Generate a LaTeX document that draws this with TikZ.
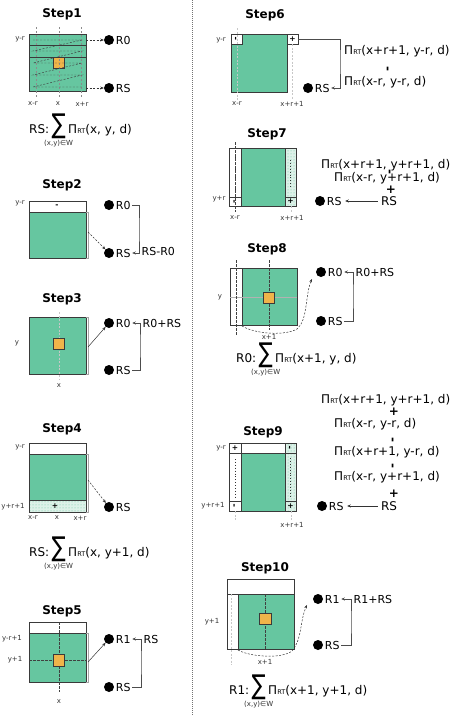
\documentclass[tikz,border=0pt]{standalone}
\usepackage{fontspec}
\usepackage{graphicx}
\setmainfont{DejaVu Sans}
\usetikzlibrary{arrows.meta,patterns}
\definecolor{grn}{HTML}{66C6A0}
\definecolor{org}{HTML}{F0B44A}
\definecolor{lgrn}{HTML}{DDF1E8}
\definecolor{bord}{HTML}{3A3A3A}
\newcommand{\PRT}{Π\kern0.2pt{\fontsize{6.5}{7}\selectfont RT}}
\newcommand{\sumf}[5]{%
 \node[ftx, anchor=base west] (#1a) at (#2,#3) {#4};
 \node[fsum, anchor=base west] (#1s) at (#1a.base east) {\scalebox{1}[1.3]{∑}};
 \node[ftx, anchor=base west] (#1b) at (#1s.base east) {\PRT(#5)};
 \node[lbl, anchor=north] (#1w) at ([yshift=-7pt]#1s.base) {(x,y)∈W};}
\begin{document}
\begin{tikzpicture}[x=1pt,y=-1pt,
 title/.style={font=\fontsize{12}{14}\selectfont\bfseries, inner sep=0},
 lbl/.style={font=\fontsize{7}{8}\selectfont, inner sep=0, text=black!80},
 mini/.style={font=\fontsize{7.5}{8}\selectfont\bfseries, inner sep=0},
 mminus/.style={mini, font=\fontsize{8.5}{9}\selectfont\bfseries, rotate=90},
 reg/.style={circle, fill=black, minimum size=10pt, inner sep=0},
 regt/.style={anchor=west, font=\fontsize{11}{12}\selectfont, inner sep=1.5pt},
 pit/.style={anchor=west, font=\fontsize{12}{14}\selectfont, inner sep=0},
 op/.style={font=\fontsize{12}{13}\selectfont\bfseries, inner sep=0},
 opminus/.style={op, rotate=90},
 ftx/.style={font=\fontsize{12}{14}\selectfont, inner sep=0},
 fsum/.style={font=\fontsize{21}{22}\selectfont, inner ysep=0, inner xsep=2pt},
 gbox/.style={fill=grn, draw=bord, line width=0.9pt},
 wbox/.style={fill=white, draw=bord, line width=0.8pt},
 lbox/.style={fill=lgrn, draw=bord, line width=0.8pt},
 obox/.style={fill=org, draw=bord, line width=0.7pt},
 guide/.style={black!45, line width=0.4pt, dash pattern=on 2pt off 2pt},
 dguide/.style={black!75, line width=0.5pt, dash pattern=on 2.5pt off 1.5pt},
 fguide/.style={black!22, line width=0.4pt, dash pattern=on 2pt off 1.5pt},
 zig/.style={black!75, line width=0.45pt, dash pattern=on 2pt off 1.5pt},
 brk/.style={black!35, line width=0.5pt},
 dotcol/.style={black!80, line width=0.9pt, dash pattern=on 0.9pt off 2pt},
 conn/.style={-{Stealth[length=3.5pt,width=3pt]}, line width=0.5pt, black!80},
 dconn/.style={conn, dash pattern=on 2pt off 1.5pt},
 bus/.style={-{Stealth[length=3.5pt,width=3pt]}, line width=0.7pt, black!70},
]
\useasboundingbox (0,0) rectangle (457,715);
% divider
\coordinate (dvt) at (192,0); \coordinate (dvb) at (192,715);
\draw[black!55, line width=0.6pt, dash pattern=on 1pt off 1pt] (dvt) -- (dvb);

% ---------------- Step1
\node[title] (t1) at (62,14) {Step1};
\draw[gbox] (29,34) rectangle (86,91);
\draw[bord, line width=0.9pt] (29,45) -- (86,45) (29,57) -- (86,57);
\draw[obox] (53,57) rectangle (64,68);
\draw[guide] (36,27) -- (36,97) (59,27) -- (59,97) (81,27) -- (81,97);
\draw[zig] (33,40) -- (82,40) -- (33,51) -- (82,51) -- (33,63) -- (82,63) -- (33,75) -- (82,75) -- (33,87) -- (82,87);
\node[lbl] (l1a) at (20,39) {y-r};
\node[lbl] (l1b) at (33,104) {x-r};
\node[lbl] (l1c) at (58,104) {x};
\node[lbl] (l1d) at (82,104) {x+r};
\node[reg] (s1r0) at (109,40) {}; \node[regt] (s1r0t) at (s1r0.east) {R0};
\node[reg] (s1rs) at (109,88) {}; \node[regt] (s1rst) at (s1rs.east) {RS};
\coordinate (s1p) at (86,40); \coordinate (s1q) at (86,88);
\draw[dconn] (s1p) -- (s1r0);
\draw[dconn] (s1q) -- (s1rs);
\sumf{f1}{29}{133}{RS:}{x, y, d}

% ---------------- Step2
\node[title] (t2) at (62,185) {Step2};
\draw[wbox] (29,201) rectangle (86,212);
\draw[gbox] (29,212) rectangle (86,258);
\node[mini] (m2) at (57,206) {-};
\node[lbl] (l2a) at (20,203) {y-r};
\draw[brk] (86,212) -- (88,212) -- (88,258) -- (86,258);
\node[reg] (s2r0) at (109,205) {}; \node[regt] (s2r0t) at (s2r0.east) {R0};
\node[reg] (s2rs) at (109,253) {}; \node[regt] (s2rst) at (s2rs.east) {RS};
\coordinate (s2p) at (88,232);
\draw[dconn] (s2p) -- (s2rs);
\coordinate (s2v) at (139,230);
\draw[bus] (s2r0t.east) -| (s2v) |- (s2rst.east);
\node[regt] (s2l) at (140,251) {RS-R0};

% ---------------- Step3
\node[title] (t3) at (62,299) {Step3};
\draw[gbox] (29,317) rectangle (86,374);
\draw[fguide] (59,312) -- (59,380);
\draw[obox] (53,338) rectangle (64,349);
\node[lbl] (l3a) at (17,343) {y};
\node[lbl] (l3b) at (59,386) {x};
\draw[brk] (86,317) -- (88,317) -- (88,374) -- (86,374);
\node[reg] (s3r0) at (109,323) {}; \node[regt] (s3r0t) at (s3r0.east) {R0};
\node[reg] (s3rs) at (109,370) {}; \node[regt] (s3rst) at (s3rs.east) {RS};
\coordinate (s3p) at (88,347);
\draw[conn] (s3p) -- (s3r0);
\coordinate (s3v) at (140,345);
\draw[bus] (s3rst.east) -| (s3v) |- (s3r0t.east);
\node[regt] (s3l) at (141,323) {R0+RS};

% ---------------- Step4
\node[title] (t4) at (62,429) {Step4};
\draw[wbox] (29,443) rectangle (86,454);
\draw[gbox] (29,454) rectangle (86,500);
\draw[lbox] (29,500) rectangle (86,512);
\fill[pattern=dots, pattern color=grn] (29.5,500.5) rectangle (85.5,511.5);
\draw[bord, line width=0.8pt] (29,500) rectangle (86,512);
\node[mini] (m4) at (55,506) {+};
\node[lbl] (l4a) at (20,447) {y-r};
\node[lbl] (l4b) at (13,507) {y+r+1};
\node[lbl] (l4c) at (33,518) {x-r};
\node[lbl] (l4d) at (57,518) {x};
\node[lbl] (l4e) at (80,518) {x+r};
\draw[brk] (86,454) -- (88,454) -- (88,512) -- (86,512);
\node[reg] (s4rs) at (109,507) {}; \node[regt] (s4rst) at (s4rs.east) {RS};
\coordinate (s4p) at (88,480);
\draw[dconn] (s4p) -- (s4rs);
\sumf{f4}{29}{556}{RS:}{x, y+1, d}

% ---------------- Step5
\node[title] (t5) at (62,611) {Step5};
\draw[wbox] (29,622) rectangle (86,633);
\draw[gbox] (29,633) rectangle (86,682);
\draw[dguide] (59,622) -- (59,692) (29,660) -- (87,660);
\draw[obox] (53,654) rectangle (64,666);
\node[lbl] (l5a) at (12,639) {y-r+1};
\node[lbl] (l5b) at (15,660) {y+1};
\node[lbl] (l5c) at (59,702) {x};
\draw[brk] (86,633) -- (88,633) -- (88,682) -- (86,682);
\node[reg] (s5r1) at (109,639) {}; \node[regt] (s5r1t) at (s5r1.east) {R1};
\node[reg] (s5rs) at (109,687) {}; \node[regt] (s5rst) at (s5rs.east) {RS};
\coordinate (s5p) at (88,662);
\draw[conn] (s5p) -- (s5r1);
\coordinate (s5v) at (141,662);
\draw[bus] (s5rst.east) -| (s5v) |- (s5r1t.east);
\node[regt] (s5l) at (142,639) {RS};

% ---------------- Step6
\node[title] (t6) at (265,15) {Step6};
\draw[gbox] (231,34) rectangle (287,92);
\draw[wbox] (231,34) rectangle (242,44);
\draw[wbox] (287,34) rectangle (298,44);
\node[mminus] (m6a) at (236.5,39) {-};
\node[mini] (m6b) at (292.5,39) {+};
\draw[fguide] (237,28) -- (237,100) (292,44) -- (292,100);
\node[lbl] (l6a) at (221,40) {y-r};
\node[lbl] (l6b) at (237,104) {x-r};
\node[lbl] (l6c) at (292,104) {x+r+1};
\node[reg] (s6rs) at (308,88) {}; \node[regt] (s6rst) at (s6rs.east) {RS};
\coordinate (s6p) at (298,39); \coordinate (s6v) at (340,60);
\draw[bus] (s6p) -| (s6v) |- (s6rst.east);
\node[pit] (s6a) at (344,51) {\PRT(x+r+1, y-r, d)};
\node[opminus] (s6m) at (389,69) {-};
\node[pit] (s6b) at (344,82) {\PRT(x-r, y-r, d)};

% ---------------- Step7
\node[title] (t7) at (267,134) {Step7};
\draw[wbox] (229,148) rectangle (241,206);
\draw[gbox] (241,148) rectangle (285,206);
\draw[lbox] (285,148) rectangle (296,206);
\fill[pattern=dots, pattern color=grn] (285.5,148.5) rectangle (295.5,205.5);
\draw[bord, line width=0.8pt] (285,148) rectangle (296,206);
\draw[wbox] (229,197) rectangle (241,206);
\draw[bord, line width=0.8pt] (285,197) rectangle (296,206);
\draw[dotcol] (235,154) -- (235,192);
\draw[dotcol] (290.5,160) -- (290.5,188);
\draw[dguide] (235,142) -- (235,212);
\draw[fguide] (291,206) -- (291,212);
\node[mminus] (m7a) at (235,201.5) {-};
\node[mini] (m7b) at (290.5,201.5) {+};
\node[lbl] (l7a) at (219,199) {y+r};
\node[lbl] (l7b) at (235,218) {x-r};
\node[lbl] (l7c) at (292,218) {x+r+1};
\node[pit] (s7a) at (321,165) {\PRT(x+r+1, y+r+1, d)};
\node[opminus] (s7m) at (391,172) {-};
\node[pit] (s7b) at (334,178) {\PRT(x-r, y+r+1, d)};
\node[op] (s7p) at (391,190) {+};
\node[pit, anchor=center] (s7src) at (389,201) {RS};
\node[reg] (s7rs) at (320,201) {}; \node[regt] (s7rst) at (s7rs.east) {RS};
\draw[conn] ([xshift=-3pt]s7src.west) -- ([xshift=2pt]s7rst.east);

% ---------------- Step8
\node[title] (t8) at (267,249) {Step8};
\draw[wbox] (230,268) rectangle (242,325);
\draw[gbox] (242,268) rectangle (297,325);
\draw[black!30, line width=0.4pt] (230,297) -- (297,297);
\draw[dguide] (236,260) -- (236,335) (269,260) -- (269,330);
\draw[obox] (263.5,292) rectangle (274.5,303);
\node[lbl] (l8a) at (220,297) {y};
\node[lbl] (l8b) at (269,337) {x+1};
\node[reg] (s8r0) at (321,272) {}; \node[regt] (s8r0t) at (s8r0.east) {R0};
\node[reg] (s8rs) at (321,321) {}; \node[regt] (s8rst) at (s8rs.east) {RS};
\coordinate (s8p) at (242,326); \coordinate (s8q) at (312,279);
\draw[dconn] (s8p) .. controls (255,334) and (285,336) .. (297,329) .. controls (308,320) and (305,295) .. (s8q);
\coordinate (s8v) at (353,296);
\draw[bus] (s8rst.east) -| (s8v) |- (s8r0t.east);
\node[regt] (s8l) at (354,272) {R0+RS};
\sumf{f8}{236}{362}{R0:}{x+1, y, d}

% ---------------- Step9
\node[title] (t9) at (263,432) {Step9};
\draw[wbox] (229,443) rectangle (296,453);
\draw[wbox] (229,453) rectangle (241,511);
\draw[gbox] (241,453) rectangle (285,511);
\draw[lbox] (285,443) rectangle (296,511);
\fill[pattern=dots, pattern color=grn] (285.5,443.5) rectangle (295.5,510.5);
\draw[bord, line width=0.8pt] (285,443) rectangle (296,511);
\draw[bord, line width=0.8pt] (229,443) rectangle (241,453);
\draw[bord, line width=0.8pt] (285,443) rectangle (296,453);
\draw[bord, line width=0.8pt] (229,501) rectangle (241,511);
\draw[bord, line width=0.8pt] (285,501) rectangle (296,511);
\draw[dotcol] (235,459) -- (235,497);
\draw[dotcol] (290.5,458) -- (290.5,497);
\draw[fguide] (235,511) -- (235,520) (291,511) -- (291,520);
\node[mini] (m9a) at (235,448) {+};
\node[mminus] (m9b) at (290.5,448) {-};
\node[mminus] (m9c) at (235,506) {-};
\node[mini] (m9d) at (290.5,506) {+};
\node[lbl] (l9a) at (221,448) {y-r};
\node[lbl] (l9b) at (213,506) {y+r+1};
\node[lbl] (l9c) at (292,525) {x+r+1};
\node[pit] (s9a) at (321,400) {\PRT(x+r+1, y+r+1, d)};
\node[op] (s9p1) at (394,412) {+};
\node[pit] (s9b) at (334,424.5) {\PRT(x-r, y-r, d)};
\node[opminus] (s9m1) at (394,440) {-};
\node[pit] (s9c) at (334,452) {\PRT(x+r+1, y-r, d)};
\node[opminus] (s9m2) at (394,466) {-};
\node[pit] (s9d) at (334,477.5) {\PRT(x-r, y+r+1, d)};
\node[op] (s9p2) at (394,494) {+};
\node[pit, anchor=center] (s9src) at (389,506) {RS};
\node[reg] (s9rs) at (322,506) {}; \node[regt] (s9rst) at (s9rs.east) {RS};
\draw[conn] ([xshift=-3pt]s9src.west) -- ([xshift=2pt]s9rst.east);

% ---------------- Step10
\node[title] (t10) at (265,568) {Step10};
\draw[wbox] (227,579) rectangle (294,594);
\draw[wbox] (227,594) rectangle (238,649);
\draw[gbox] (238,594) rectangle (294,649);
\draw[fguide] (231,594) -- (231,665);
\draw[dguide] (265,594) -- (265,649);
\draw[obox] (259,613) rectangle (271,624);
\node[lbl] (l10a) at (212,622) {y+1};
\node[lbl] (l10b) at (265,662) {x+1};
\node[reg] (s10r1) at (318,599) {}; \node[regt] (s10r1t) at (s10r1.east) {R1};
\node[reg] (s10rs) at (318,645) {}; \node[regt] (s10rst) at (s10rs.east) {RS};
\coordinate (s10p) at (238,650); \coordinate (s10q) at (307,605);
\draw[dconn] (s10p) .. controls (250,657) and (282,659) .. (292,651) .. controls (302,640) and (300,620) .. (s10q);
\coordinate (s10v) at (351,622);
\draw[bus] (s10rst.east) -| (s10v) |- (s10r1t.east);
\node[regt] (s10l) at (352,599) {R1+RS};
\sumf{f10}{229}{694}{R1:}{x+1, y+1, d}
\end{tikzpicture}
\end{document}
